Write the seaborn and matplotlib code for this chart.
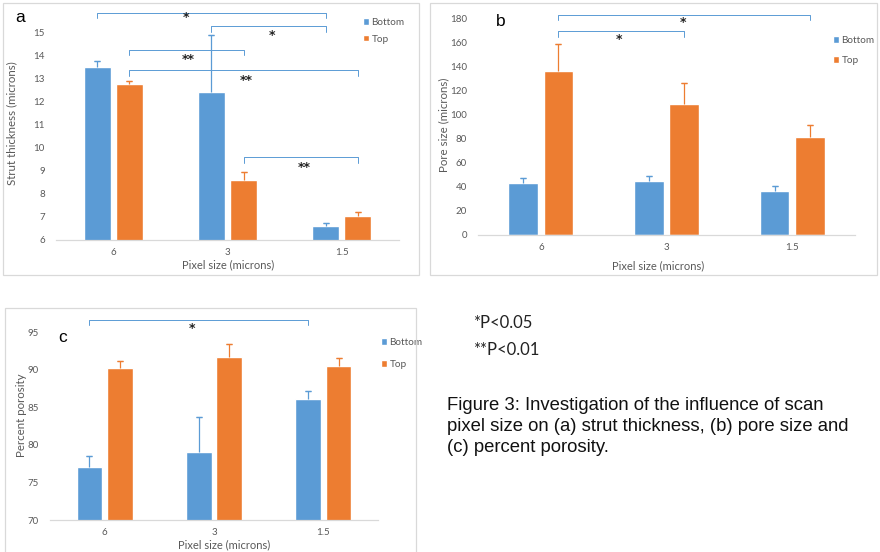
import numpy as np
import pandas as pd
import matplotlib
matplotlib.use("Agg")
import matplotlib.pyplot as plt
from matplotlib.patches import Rectangle
import seaborn as sns

W, H = 880, 552

pixel_sizes = ["6", "3", "1.5"]
layers = ["Bottom", "Top"]

strut_bottom = [13.5, 12.4, 6.6]
strut_top = [12.75, 8.6, 7.05]
strut_bottom_err = [0.25, 2.45, 0.15]
strut_top_err = [0.13, 0.35, 0.15]

pore_bottom = [43, 45, 37]
pore_top = [137, 109, 81.5]
pore_bottom_err = [4.5, 4.0, 3.5]
pore_top_err = [22, 18, 10.5]

poro_bottom = [77, 79, 86.1]
poro_top = [90.2, 91.7, 90.5]
poro_bottom_err = [1.5, 4.7, 1.0]
poro_top_err = [0.9, 1.7, 1.0]

# significance brackets: (layer, group) -> (layer, group), line y, drop y, label, label x, label y
strut_sig = [
    ((0, 0), (0, 2), 15.82, 15.6, "*", 0.64, 15.61),
    ((0, 1), (0, 2), 15.26, 15.0, "*", 1.39, 14.87),
    ((1, 0), (1, 1), 14.22, 14.0, "**", 0.66, 13.79),
    ((1, 0), (1, 2), 13.36, 13.1, "**", 1.16, 12.88),
    ((1, 1), (1, 2), 9.59, 9.33, "**", 1.67, 9.12),
]
pore_sig = [
    ((1, 0), (1, 2), 183.3, 179.2, "*", 1.13, 176.7),
    ((1, 0), (1, 1), 170.0, 165.0, "*", 0.62, 162.5),
]
poro_sig = [
    ((0, 0), (0, 2), 96.6, 95.9, "*", 0.80, 95.4),
]

BLUE = "#5B9BD5"
ORANGE = "#ED7D31"
GREY = "#595959"

sns.set_theme(style="white")
plt.rcParams["font.family"] = ["Lato", "DejaVu Sans"]


def px_rect(l, t, r, b):
    return [l / W, 1 - b / H, (r - l) / W, (b - t) / H]


def draw_panel(fig, rect, frame, bottom, top, berr, terr, ylim, yticks,
               ylabel, ylabel_xy, xlabel_xy, sig, letter, letter_xy,
               legend_xy, legend_gap):
    # panel border
    l, t, r, b = frame
    fig.add_artist(Rectangle((l / W, 1 - b / H), (r - l) / W, (b - t) / H,
                             transform=fig.transFigure, fill=False,
                             edgecolor="#D9D9D9", lw=0.9))
    ax = fig.add_axes(px_rect(*rect))
    df = pd.DataFrame({
        "pixel": pixel_sizes * 2,
        "layer": [layers[0]] * 3 + [layers[1]] * 3,
        "value": bottom + top,
    })
    sns.barplot(data=df, x="pixel", y="value", hue="layer", order=pixel_sizes,
                hue_order=layers, palette=[BLUE, ORANGE], width=0.56, gap=0.16,
                errorbar=None, ax=ax, saturation=1)

    bars = list(ax.containers[:2])
    centers = [[p.get_x() + p.get_width() / 2 for p in cont] for cont in bars]

    for cont, errs, col in zip(bars, [berr, terr], [BLUE, ORANGE]):
        xs = [p.get_x() + p.get_width() / 2 for p in cont]
        ys = [p.get_height() + e for p, e in zip(cont, errs)]
        # upper-only error bars: stem from bar top, cap at the end
        ax.errorbar(xs, ys, yerr=[errs, np.zeros(len(errs))], fmt="none",
                    ecolor=col, elinewidth=0.9, capsize=0, clip_on=False)
        ax.errorbar(xs, ys, yerr=[np.zeros(len(errs)), np.zeros(len(errs))],
                    fmt="none", ecolor=col, elinewidth=0.9, capsize=2.5,
                    capthick=0.9, clip_on=False)

    for (h1, g1), (h2, g2), yl, yd, lab, lx, ly in sig:
        x1 = centers[h1][g1]
        x2 = centers[h2][g2]
        ax.plot([x1, x1, x2, x2], [yd, yl, yl, yd], color=BLUE, lw=0.7,
                clip_on=False)
        ax.text(lx, ly, lab, ha="center", va="center", fontsize=9,
                fontweight="bold", color="#222222", family="DejaVu Sans")

    ax.set_xlim(-0.5, 2.5)
    ax.set_ylim(*ylim)
    ax.set_yticks(yticks)
    ax.tick_params(axis="both", length=0, labelsize=7, labelcolor=GREY)
    ax.tick_params(axis="x", pad=6)
    ax.tick_params(axis="y", pad=8)
    sns.despine(ax=ax, left=True)
    ax.spines["bottom"].set_color("#D9D9D9")
    ax.spines["bottom"].set_linewidth(0.9)

    ax.set_xlabel("Pixel size (microns)", fontsize=8, color=GREY)
    ax.xaxis.set_label_coords(xlabel_xy[0] / W, 1 - xlabel_xy[1] / H,
                              transform=fig.transFigure)
    ax.set_ylabel(ylabel, fontsize=8.3, color=GREY)
    ax.yaxis.set_label_coords(ylabel_xy[0] / W, 1 - ylabel_xy[1] / H,
                              transform=fig.transFigure)

    fig.text(letter_xy[0] / W, 1 - letter_xy[1] / H, letter, fontsize=12.5,
             family="Liberation Sans", ha="center", va="center", color="black")

    leg = ax.legend(loc="upper left", bbox_to_anchor=(legend_xy[0] / W, 1 - legend_xy[1] / H),
                    bbox_transform=fig.transFigure, frameon=False, fontsize=7.2,
                    handlelength=0.6, handleheight=0.6, handletextpad=0.25,
                    labelspacing=legend_gap, borderpad=0, borderaxespad=0)
    for txt in leg.get_texts():
        txt.set_color(GREY)
    return ax


fig = plt.figure(figsize=(W / 100, H / 100), dpi=100)

draw_panel(fig, (56, 32, 399, 240), (3, 3, 419, 275),
           strut_bottom, strut_top, strut_bottom_err, strut_top_err,
           (6, 15), range(6, 16), "Strut thickness (microns)",
           (17, 123), (228, 259), strut_sig, "a", (20, 17), (363, 18), 0.75)

draw_panel(fig, (478, 19, 855, 235), (430, 3, 877, 275),
           pore_bottom, pore_top, pore_bottom_err, pore_top_err,
           (0, 180), range(0, 181, 20), "Pore size (microns)",
           (449, 125), (658, 260), pore_sig, "b", (501, 21), (833, 36), 1.1)

draw_panel(fig, (50, 332, 378, 520), (5, 308, 416, 560),
           poro_bottom, poro_top, poro_bottom_err, poro_top_err,
           (70, 95), range(70, 96, 5), "Percent porosity",
           (27, 415), (224, 539), poro_sig, "c", (63, 337), (381, 338), 1.3)

fig.text(473 / W, 1 - 328 / H, "*P<0.05", fontsize=12, family="Lato",
         color="#222222", va="baseline")
fig.text(473 / W, 1 - 355 / H, "**P<0.01", fontsize=12, family="Lato",
         color="#222222", va="baseline")

caption = ("Figure 3: Investigation of the influence of scan\n"
           "pixel size on (a) strut thickness, (b) pore size and\n"
           "(c) percent porosity.")
fig.text(447 / W, 1 - 397 / H, caption, fontsize=13.3, family="Liberation Sans",
         color="#111111", va="top", ha="left", linespacing=1.32)

fig.savefig("out.png", dpi=100)
